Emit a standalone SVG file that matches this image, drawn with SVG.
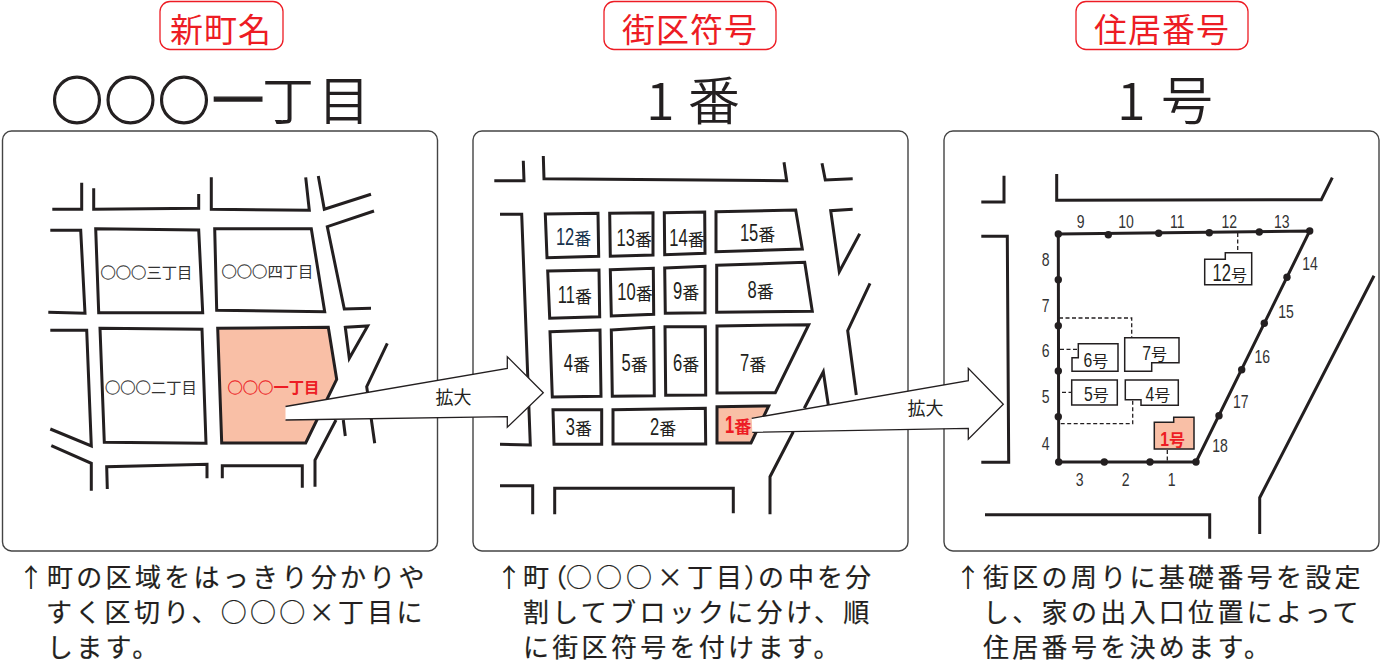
<svg xmlns="http://www.w3.org/2000/svg" width="1380" height="666" viewBox="0 0 1380 666">
<style>
text{font-family:"Noto Sans CJK JP","Liberation Sans",sans-serif;fill:#231f20}
.panel{fill:#fff;stroke:#444;stroke-width:1.4}
.pill{fill:#fff;stroke:#ed1c24;stroke-width:1.3}
.pt{fill:#ed1c24;font-size:33px;letter-spacing:1px;text-anchor:middle}
.title{font-size:52px;font-weight:350}
.ring{stroke:#231f20;stroke-width:1.3}
.road,.blk{fill:none;stroke:#231f20;stroke-width:3;stroke-miterlimit:8}
.blk{fill:#fff}
.cap{font-size:26px;letter-spacing:3.3px;stroke:#231f20;stroke-width:.2}
.ar{font-size:26px}
.tn{font-size:15.3px;fill:#333}
.tr{stroke:#333;stroke-width:.3}
.trr{stroke:#ed1c24;stroke-width:.3}
.d{font-family:"Liberation Sans",sans-serif;font-size:23px;text-anchor:end}
.n{font-family:"Liberation Sans",sans-serif;font-size:18px;text-anchor:middle;fill:#333}
.k{font-size:17px}
.g{font-size:16px}
.arrow{fill:#fff;stroke:none}
.aline{fill:none;stroke:#231f20;stroke-width:1.3}
.lab{font-size:18px;text-anchor:middle}
.h{fill:#fff;stroke:#231f20;stroke-width:1.5}
.dash{fill:none;stroke:#231f20;stroke-width:1.3;stroke-dasharray:4 2.5}
.per{fill:none;stroke:#231f20;stroke-width:3}
.hot{fill:#f9bfa6}
.red{fill:#ed1c24}
.b{font-weight:700}
</style>
<defs><circle id="dot" r="3.7" fill="#231f20"/></defs>

<g id="heading-1">
<rect class="pill" x="160" y="1.5" width="123" height="48" rx="10"/>
<text class="pt red" x="221" y="42">新町名</text>
<text class="title ring" y="120" x="51 104.5 158">○○○</text>
<text class="title ring" x="212" y="120">一</text>
<text class="title" x="262" y="120">丁</text>
<text class="title" x="318" y="120">目</text>
</g>
<g id="heading-2">
<rect class="pill" x="604" y="1.5" width="172" height="48" rx="10"/>
<text class="pt red" x="690" y="42">街区符号</text>
<text class="title" x="646" y="120" font-family="Liberation Sans">1</text>
<text class="title" x="688" y="120">番</text>
</g>
<g id="heading-3">
<rect class="pill" x="1076" y="1.5" width="172" height="48" rx="10"/>
<text class="pt red" x="1162" y="42">住居番号</text>
<text class="title" x="1117" y="120" font-family="Liberation Sans">1</text>
<text class="title" x="1161" y="120">号</text>
</g>

<g id="panel-1">
<rect class="panel" x="2.5" y="131" width="435" height="420" rx="9"/>
<g id="roads-1">
<polyline class="road" points="81.7,182.7 81.7,209.3 52.3,209.3"/>
<polyline class="road" points="93.7,188.3 93.7,209.3 198.7,208.3 198.7,194"/>
<polyline class="road" points="211.3,177.3 211.3,209.3 309.3,210.3 305.7,177.3"/>
<polyline class="road" points="318.3,176 324.3,209.3 371,194.3"/>
<polyline class="road" points="374,211 327.3,226.7 344.3,309 371,308.3"/>
<polyline class="road" points="50.3,230.3 80.7,230.3 85,313.3 48.3,312.3"/>
<polyline class="road" points="50.3,330.3 86.7,330.3 91.3,446 50.3,429"/>
<polygon class="road" points="345.3,327.3 367.7,326 349.3,358.3"/>
<polyline class="road" points="387.3,343.3 366.7,386.7 374.7,443.3"/>
<polyline class="road" points="343.3,420 345.3,436"/>
<polyline class="road" points="336,420 315,460 315,486.7"/>
<polyline class="road" points="51.3,445.7 91.3,463.3 91.3,490.7"/>
<polyline class="road" points="107.3,489 106.7,466.7 207,464.3 207,478.3"/>
<polyline class="road" points="222.3,478.3 222.3,465.7 302.3,465.7 302.3,487.7"/>
</g>
<g id="chome-3"><polygon class="blk" points="95.7,228.7 198.7,230 202.7,312.7 98.7,312.7"/><text class="tn" x="100.5" y="278"><tspan class="tr">○○○</tspan>三丁目</text></g>
<g id="chome-4"><polygon class="blk" points="214.7,228.7 311.3,228.7 324.7,311.7 216.7,310.3"/><text class="tn" x="221.5" y="277"><tspan class="tr">○○○</tspan>四丁目</text></g>
<g id="chome-2"><polygon class="blk" points="100,328.3 202,329.3 206,443.3 104.3,442.3"/><text class="tn" x="105" y="393"><tspan class="tr">○○○</tspan>二丁目</text></g>
<g id="chome-1"><polygon class="blk hot" points="217.7,328.3 328.3,327.3 336.7,379.3 305.7,443 221.7,443"/><text class="tn red" x="227.5" y="392.5"><tspan class="trr">○○○</tspan><tspan class="b">一丁目</tspan></text></g>
</g>

<g id="panel-2">
<rect class="panel" x="473" y="131" width="435" height="420" rx="9"/>
<g id="roads-2">
<polyline class="road" points="523.3,160.7 524,180.7 494.3,180.7"/>
<polyline class="road" points="543.3,156 544,178.7 786.7,180.7 784,162.3"/>
<polyline class="road" points="822,163.3 825.3,180 852.7,178.7"/>
<polyline class="road" points="852.7,209.3 830.7,210.7 839.3,271.7 859.7,233.7"/>
<polyline class="road" points="870,283.3 847.7,330.7 856.3,395"/>
<polyline class="road" points="804.3,408.3 823.3,371.7 828.3,405"/>
<polyline class="road" points="793.3,431.7 770,476.7 770,514.3"/>
<polyline class="road" points="500,214.3 521.7,214.3 530.3,445 500,444.3"/>
<polyline class="road" points="500,485.7 532.7,485.7 532.7,514.3"/>
<polyline class="road" points="554.7,514.3 554.7,488.3 733.3,488.3 733.3,513.3"/>
</g>
<g id="ban-12"><polygon class="blk" points="545.3,214 598,213.3 598.7,256.3 547,257.7"/><text class="d" transform="translate(574.3,245) scale(.72,1)" style="fill:#17324d">12</text><text class="k" x="574.3" y="245" style="fill:#17324d">番</text></g>
<g id="ban-13"><polygon class="blk" points="609.7,213.3 653,212.7 653,255 610.3,256.3"/><text class="d" transform="translate(635,245.7) scale(.72,1)">13</text><text class="k" x="635" y="245.7">番</text></g>
<g id="ban-14"><polygon class="blk" points="664.3,212.7 704.7,212 705,253.3 664.7,254.7"/><text class="d" transform="translate(687.7,245.7) scale(.72,1)">14</text><text class="k" x="687.7" y="245.7">番</text></g>
<g id="ban-15"><polygon class="blk" points="716,211.7 795.7,210 802.3,249 716,251.7"/><text class="d" transform="translate(758.3,240.7) scale(.72,1)">15</text><text class="k" x="758.3" y="240.7">番</text></g>
<g id="ban-11"><polygon class="blk" points="547.7,271 599,270 599.7,316.7 549.7,318.3"/><text class="d" transform="translate(575,302.7) scale(.72,1)">11</text><text class="k" x="575" y="302.7">番</text></g>
<g id="ban-10"><polygon class="blk" points="610.3,269.7 653.3,268.3 653.7,314.3 611.3,316"/><text class="d" transform="translate(635.7,300) scale(.72,1)">10</text><text class="k" x="635.7" y="300">番</text></g>
<g id="ban-9"><polygon class="blk" points="664.7,268 705,266.3 705,312.7 665.3,313.3"/><text class="d" transform="translate(682.3,299.3) scale(.72,1)">9</text><text class="k" x="682.3" y="299.3">番</text></g>
<g id="ban-8"><polygon class="blk" points="716.7,265.3 804.7,262.3 812.3,311.3 716.7,312.3"/><text class="d" transform="translate(756.7,298.3) scale(.72,1)">8</text><text class="k" x="756.7" y="298.3">番</text></g>
<g id="ban-4"><polygon class="blk" points="550,331.7 600,330 601,396.3 552.3,397"/><text class="d" transform="translate(573,370.7) scale(.72,1)">4</text><text class="k" x="573" y="370.7">番</text></g>
<g id="ban-5"><polygon class="blk" points="611.3,330 653.7,327.3 654.3,395.7 612.3,396.3"/><text class="d" transform="translate(630.7,370.7) scale(.72,1)">5</text><text class="k" x="630.7" y="370.7">番</text></g>
<g id="ban-6"><polygon class="blk" points="665,326.7 705.3,326.7 705.7,395 665.7,395.3"/><text class="d" transform="translate(682.3,370.7) scale(.72,1)">6</text><text class="k" x="682.3" y="370.7">番</text></g>
<g id="ban-7"><polygon class="blk" points="717,326 808.7,324.7 775.3,392.7 717,393"/><text class="d" transform="translate(749.3,370.7) scale(.72,1)">7</text><text class="k" x="749.3" y="370.7">番</text></g>
<g id="ban-3"><polygon class="blk" points="553,409.7 601.7,409.7 601.7,444.3 554,444.3"/><text class="d" transform="translate(575,435) scale(.72,1)">3</text><text class="k" x="575" y="435">番</text></g>
<g id="ban-2"><polygon class="blk" points="613,409.7 705.3,408.3 705.7,444 613,444"/><text class="d" transform="translate(659.3,435) scale(.72,1)">2</text><text class="k" x="659.3" y="435">番</text></g>
<g id="ban-1"><polygon class="blk hot" points="717,406.7 768.7,406 751,443 717,443"/><text class="d red b" transform="translate(734.3,433.3) scale(.72,1)">1</text><text class="k red b" x="734.3" y="433.3">番</text></g>
</g>

<g id="panel-3">
<rect class="panel" x="944" y="131" width="435" height="420" rx="9"/>
<g id="roads-3">
<polyline class="road" points="1004,175.7 1004,202 981.3,202"/>
<polyline class="road" points="1056.7,174 1056.7,200.3 1321.3,199.7 1332.3,177.7"/>
<polyline class="road" points="981.3,236.3 1007.3,236.3 1008.7,462.3 981.3,462.3"/>
<polyline class="road" points="1374,275.7 1259.7,497.7 1259.7,534"/>
<polyline class="road" points="985,514.7 1209.7,514.7 1209.7,538.7"/>
</g>
<g id="dashes">
<polyline class="dash" points="1237.7,233 1237.7,252.7"/>
<polyline class="dash" points="1059,318 1131.7,318 1131.7,337.7"/>
<polyline class="dash" points="1060,349.3 1078.3,349.3"/>
<polyline class="dash" points="1062,392.3 1071.7,392.3"/>
<polyline class="dash" points="1060.7,423.7 1132.7,423.7 1132.7,399.7"/>
<polyline class="dash" points="1167.3,450 1167.3,462"/>
</g>
<g id="perimeter">
<polygon class="per" points="1058.3,234 1309.7,231 1196,462 1058.7,462"/>
<use href="#dot" x="1058.3" y="234"/><use href="#dot" x="1108.3" y="234.7"/><use href="#dot" x="1158.7" y="233.3"/><use href="#dot" x="1209.3" y="232.7"/><use href="#dot" x="1259.3" y="232"/><use href="#dot" x="1309.7" y="231"/>
<use href="#dot" x="1058.3" y="279.7"/><use href="#dot" x="1058.3" y="325.7"/><use href="#dot" x="1058.3" y="371"/><use href="#dot" x="1058.3" y="416.7"/><use href="#dot" x="1058.7" y="462"/>
<use href="#dot" x="1104.3" y="462"/><use href="#dot" x="1150" y="462"/><use href="#dot" x="1196" y="462"/>
<use href="#dot" x="1219" y="415.7"/><use href="#dot" x="1241.7" y="369.7"/><use href="#dot" x="1264.3" y="323.3"/><use href="#dot" x="1287" y="277.3"/>
</g>
<g id="base-numbers">
<text class="n" transform="translate(1080.7,227.5) scale(.78,1)">9</text>
<text class="n" transform="translate(1126,227.5) scale(.78,1)">10</text>
<text class="n" transform="translate(1177.3,227.5) scale(.78,1)">11</text>
<text class="n" transform="translate(1229.3,227.5) scale(.78,1)">12</text>
<text class="n" transform="translate(1281.7,227.5) scale(.78,1)">13</text>
<text class="n" transform="translate(1310,269.8) scale(.78,1)">14</text>
<text class="n" transform="translate(1286,317.5) scale(.78,1)">15</text>
<text class="n" transform="translate(1262.3,362.5) scale(.78,1)">16</text>
<text class="n" transform="translate(1240.7,407.5) scale(.78,1)">17</text>
<text class="n" transform="translate(1220,451.5) scale(.78,1)">18</text>
<text class="n" transform="translate(1045.7,265.5) scale(.78,1)">8</text>
<text class="n" transform="translate(1045.7,311.5) scale(.78,1)">7</text>
<text class="n" transform="translate(1045.7,357.2) scale(.78,1)">6</text>
<text class="n" transform="translate(1045.7,403.2) scale(.78,1)">5</text>
<text class="n" transform="translate(1045.7,449.8) scale(.78,1)">4</text>
<text class="n" transform="translate(1079.7,485.8) scale(.78,1)">3</text>
<text class="n" transform="translate(1125.7,485.8) scale(.78,1)">2</text>
<text class="n" transform="translate(1171.7,485.8) scale(.78,1)">1</text>
</g>
<g id="house-12"><polygon class="h" points="1204.7,259.3 1225.3,259.3 1225.3,252.7 1251.7,252.7 1251.7,284.7 1204.7,284.7"/><text class="d" transform="translate(1231,280.7) scale(.72,1)">12</text><text class="g" x="1231" y="280.7">号</text></g>
<g id="house-7"><polygon class="h" points="1124.7,337.7 1179,337.7 1179,362.7 1151.7,362.7 1151.7,371.3 1124.7,371.3"/><text class="d" style="font-size:21px" transform="translate(1151,360) scale(.75,1)">7</text><text class="g" x="1151" y="360">号</text></g>
<g id="house-6"><polygon class="h" points="1078.3,343.7 1118,343.7 1118,371.3 1072,371.3 1072,357.7 1078.3,357.7"/><text class="d" style="font-size:21px" transform="translate(1092.3,366.7) scale(.75,1)">6</text><text class="g" x="1092.3" y="366.7">号</text></g>
<g id="house-5"><polygon class="h" points="1071.7,380 1117.3,380 1117.3,405 1071.7,405"/><text class="d" style="font-size:21px" transform="translate(1092.7,401) scale(.75,1)">5</text><text class="g" x="1092.7" y="401">号</text></g>
<g id="house-4"><polygon class="h" points="1125.3,380 1178.3,380 1178.3,405.3 1141,405.3 1141,399.7 1125.3,399.7"/><text class="d" style="font-size:21px" transform="translate(1154.3,401) scale(.75,1)">4</text><text class="g" x="1154.3" y="401">号</text></g>
<g id="house-1"><polygon class="h hot" points="1154.3,422.3 1173.7,422.3 1173.7,417.3 1194,417.3 1194,449 1154.3,449"/><text class="d red b" style="font-size:21px" transform="translate(1169,445.7) scale(.75,1)">1</text><text class="g red b" x="1169" y="445.7">号</text></g>
</g>

<g id="connectors">
<polygon class="arrow" points="285.5,406.5 507.3,368.5 507.3,356.7 543.3,392.7 507.3,427.3 507.3,416.7 285.5,420"/>
<polyline class="aline" points="285.5,406.5 507.3,368.5 507.3,356.7 543.3,392.7 507.3,427.3 507.3,416.7 285.5,420"/>
<polygon class="arrow" points="751.7,418.3 968.3,380.7 968.3,368.3 1003.3,404.3 968.3,439.3 968.3,428.3 752.3,432.3"/>
<polyline class="aline" points="751.7,418.3 968.3,380.7 968.3,368.3 1003.3,404.3 968.3,439.3 968.3,428.3 752.3,432.3"/>
</g>
<text class="lab" x="453.5" y="403.5">拡大</text>
<text class="lab" x="925.5" y="414.5">拡大</text>

<g id="caption-1">
<text class="ar" x="18" y="586.5">↑</text>
<text class="cap" x="47" y="586.5">町の区域をはっきり分かりや</text>
<text class="cap" x="46" y="621.5">すく区切り、○○○×丁目に</text>
<text class="cap" x="47" y="656.5">します。</text>
</g>
<g id="caption-2">
<text class="ar" x="496" y="586.5">↑</text>
<text class="cap" y="586.5" style="letter-spacing:0" x="523 541 566 596 626 657 687 716 744 758 788 817 845">町（○○○×丁目）の中を分</text>
<text class="cap" x="523" y="621.5">割してブロックに分け、順</text>
<text class="cap" x="523" y="656.5">に街区符号を付けます。</text>
</g>
<g id="caption-3">
<text class="ar" x="955" y="586.5">↑</text>
<text class="cap" x="983" y="586.5">街区の周りに基礎番号を設定</text>
<text class="cap" x="983" y="621.5">し、家の出入口位置によって</text>
<text class="cap" x="983" y="656.5">住居番号を決めます。</text>
</g>
</svg>
